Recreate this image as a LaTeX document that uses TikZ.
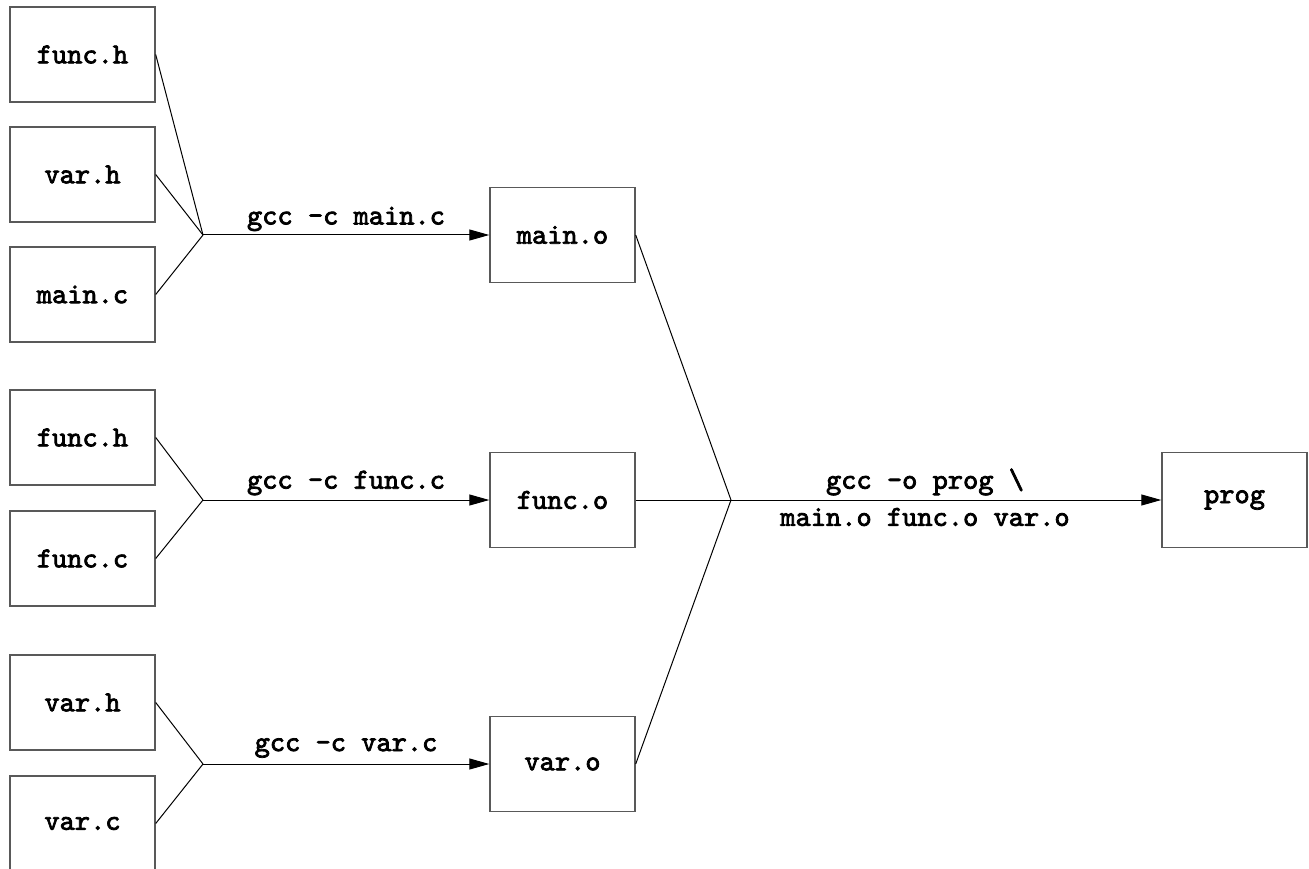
\documentclass[tikz,border=0pt]{standalone}
\usepackage{fontspec}
\newfontfamily\codefont{lmmono10-regular.otf}[FakeBold=2.6]
\usetikzlibrary{arrows.meta}
\begin{document}
\begin{tikzpicture}[x=1pt,y=-1pt,
  file/.style={draw=black!65, line width=1.4pt, minimum width=145pt, minimum height=95pt,
    inner sep=0pt, font=\codefont\fontsize{29}{34}\selectfont},
  cmd/.style={inner sep=0pt, font=\codefont\fontsize{29}{34}\selectfont},
  wire/.style={draw=black, line width=1pt},
  feed/.style={wire, -{Triangle[length=20pt,width=11pt]}}]
\clip (0,0) rectangle (1309,869);
\fill[white] (0,0) rectangle (1309,869);

% source files
\node[file] (fh1) at (82.5,54.5)  {func.h};
\node[file] (vh1) at (82.5,174.5) {var.h};
\node[file] (mc)  at (82.5,294.5) {main.c};
\node[file] (fh2) at (82.5,437.5) {func.h};
\node[file] (fc)  at (82.5,558.5) {func.c};
\node[file] (vh3) at (82.5,702.5) {var.h};
\node[file] (vc)  at (82.5,823.5) {var.c};

% object files and program
\node[file] (mo) at (562.5,235) {main.o};
\node[file] (fo) at (562.5,500) {func.o};
\node[file] (vo) at (562.5,764) {var.o};
\node[file] (pg) at (1234.5,500) {prog};

% junction points
\coordinate (j1) at (203,235);
\coordinate (j2) at (203,500);
\coordinate (j3) at (203,764);
\coordinate (jl) at (731,500);

% compile steps
\draw[wire] (fh1.east) -- (j1);
\draw[wire] (vh1.east) -- (j1);
\draw[wire] (mc.east) -- (j1);
\draw[feed] (j1) -- (mo.west);
\node[cmd] (l1) at (346,219) {gcc -c main.c};

\draw[wire] (fh2.east) -- (j2);
\draw[wire] (fc.east) -- (j2);
\draw[feed] (j2) -- (fo.west);
\node[cmd] (l2) at (346,483) {gcc -c func.c};

\draw[wire] (vh3.east) -- (j3);
\draw[wire] (vc.east) -- (j3);
\draw[feed] (j3) -- (vo.west);
\node[cmd] (l3) at (346,748) {gcc -c var.c};

% link step
\draw[wire] (mo.east) -- (jl);
\draw[wire] (fo.east) -- (jl);
\draw[wire] (vo.east) -- (jl);
\draw[feed] (jl) -- (pg.west);
\node[cmd] (l4a) at (925,482) {gcc -o prog \textbackslash};
\node[cmd] (l4b) at (925,517) {main.o func.o var.o};
\end{tikzpicture}
\end{document}
